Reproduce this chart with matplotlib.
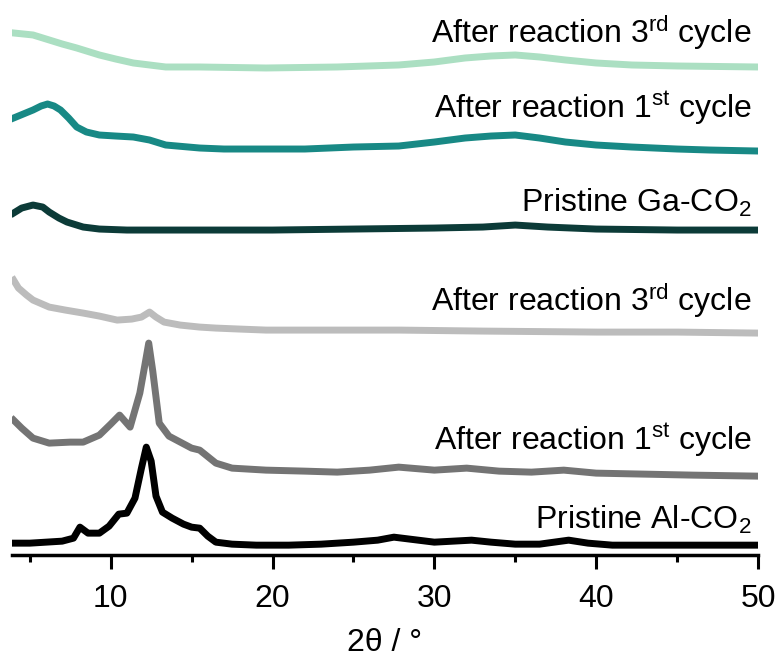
import matplotlib
matplotlib.use("Agg")
import matplotlib.pyplot as plt

plt.rcParams['font.family'] = ['Liberation Sans', 'DejaVu Sans']
plt.rcParams['mathtext.fontset'] = 'custom'
plt.rcParams['mathtext.rm'] = 'Liberation Sans'
plt.rcParams['mathtext.it'] = 'Liberation Sans:italic'

# --- data (2theta in degrees, intensity in arb. units) ---
# Pristine Al-CO2
al_pristine_x = [4, 5, 6, 7, 7.7, 8.1, 8.6, 9.3, 9.9, 10.5, 11.0, 11.5, 11.9, 12.2, 12.5,
                 12.8, 13.2, 13.8, 14.5, 15.0, 15.5, 16.0, 16.5, 17.5, 19, 21, 23, 25, 26.5,
                 27.5, 28.5, 30, 32.3, 33.5, 35, 36.5, 38.3, 39.5, 41, 44, 47, 50]
al_pristine_y = [3, 3, 4, 5, 8, 19, 13, 13, 20, 32, 33, 48, 78, 99, 85,
                 50, 34, 28, 22, 19, 18, 10, 4, 2, 1, 1, 2, 4, 6,
                 9, 7, 4, 6, 4, 2, 2, 6, 3, 1, 1, 1, 1]

# Al-CO2 after reaction, 1st cycle
al_cyc1_x = [4, 4.5, 5.2, 6.2, 7.5, 8.3, 9.3, 10.0, 10.55, 11.2, 11.8, 12.1, 12.35, 12.6,
             13.0, 13.6, 14.3, 15.0, 15.5, 16.5, 17.5, 19.6, 22, 24, 26, 27.8, 30, 32,
             34, 36, 38, 40, 43, 46, 50]
al_cyc1_y = [56, 48, 38, 33, 34, 34, 41, 52, 61, 49, 83, 110, 133, 105,
             53, 40, 34, 28, 26, 13, 8, 6, 5, 4, 6, 9, 6, 8,
             5, 4, 6, 3, 2, 1, 0]

# Al-CO2 after reaction, 3rd cycle
al_cyc3_x = [4, 4.3, 4.8, 5.2, 6.2, 7.2, 8.3, 9.3, 10.4, 11.3, 11.9, 12.4, 12.8, 13.3,
             14.3, 15.5, 16.5, 18, 19.6, 23, 27.8, 33, 40, 45, 50]
al_cyc3_y = [53, 45, 38, 33, 26, 23, 20, 17, 13, 14, 16, 21, 16, 11,
             8, 6, 5, 4, 3, 3, 3, 2, 1, 1, 0]

# Pristine Ga-CO2
ga_pristine_x = [4, 4.5, 5.2, 5.8, 6.2, 6.8, 7.3, 8.3, 9.3, 11, 15, 20, 25, 30, 33, 35,
                 37, 40, 45, 50]
ga_pristine_y = [17, 22, 25, 23, 18, 12, 8, 3, 1, 0, 0, 0, 1, 2, 3, 5,
                 3, 1, 0, 0]

# Ga-CO2 after reaction, 1st cycle
ga_cyc1_x = [4, 4.6, 5.2, 5.7, 6.1, 6.5, 6.9, 7.4, 7.9, 8.5, 9.3, 10.3, 11.4, 12.4, 13.4,
             15.5, 17, 19.6, 22, 25, 27.8, 30, 31.9, 33.5, 35, 36.5, 38.1, 40, 42.2, 45,
             47, 50]
ga_cyc1_y = [33, 37, 41, 45, 47, 45, 41, 33, 24, 19, 16, 15, 14, 11, 6,
             3, 2, 2, 2, 4, 5, 9, 13, 15, 16, 13, 9, 6, 4, 2,
             1, 0]

# Ga-CO2 after reaction, 3rd cycle
ga_cyc3_x = [4, 5.2, 6.2, 7.0, 7.9, 9.3, 10.3, 11.4, 12.4, 13.4, 15.5, 19.6, 24, 27.8,
             30, 31.9, 33.5, 35, 36.5, 38.1, 40, 42.2, 45, 50]
ga_cyc3_y = [35, 33, 28, 24, 20, 13, 9, 5, 3, 1, 1, 0, 1, 3,
             6, 10, 12, 13, 11, 8, 5, 3, 2, 1]

labels = [r'Pristine Al-CO$_2$',
          r'After reaction 1$^{\rm st}$ cycle',
          r'After reaction 3$^{\rm rd}$ cycle',
          r'Pristine Ga-CO$_2$',
          r'After reaction 1$^{\rm st}$ cycle',
          r'After reaction 3$^{\rm rd}$ cycle']

series = [(al_pristine_x, al_pristine_y),
          (al_cyc1_x, al_cyc1_y),
          (al_cyc3_x, al_cyc3_y),
          (ga_pristine_x, ga_pristine_y),
          (ga_cyc1_x, ga_cyc1_y),
          (ga_cyc3_x, ga_cyc3_y)]

colors = ['#000000', '#747474', '#bcbcbc', '#0c3b38', '#188985', '#abdfc2']
offsets = [9, 79, 222, 325, 404, 487]
label_y = [35, 115, 255, 352, 447, 522]

fig = plt.figure(figsize=(7.78, 6.57), dpi=100)
ax = fig.add_axes([0.0154, 0.155, 0.9589, 0.8146])

for (x, y), c, off in zip(series, colors, offsets):
    ax.plot(x, [v + off for v in y], color=c, lw=5, solid_joinstyle='round')

for lab, ly in zip(labels, label_y):
    ax.text(49.6, ly, lab, ha='right', va='center', fontsize=23)

ax.set_xlim(3.9, 50)
ax.set_ylim(0, 535)
ax.set_yticks([])
for s in ['left', 'right', 'top']:
    ax.spines[s].set_visible(False)
ax.spines['bottom'].set_linewidth(2.5)
ax.set_xticks([10, 20, 30, 40, 50])
ax.set_xticks([5, 15, 25, 35, 45], minor=True)
ax.tick_params(axis='x', which='major', length=10, width=2.2, labelsize=23, pad=11)
ax.tick_params(axis='x', which='minor', length=5, width=2.2)
ax.set_xlabel('2θ / °', fontsize=23, labelpad=10)

fig.savefig('out.png', dpi=100)
